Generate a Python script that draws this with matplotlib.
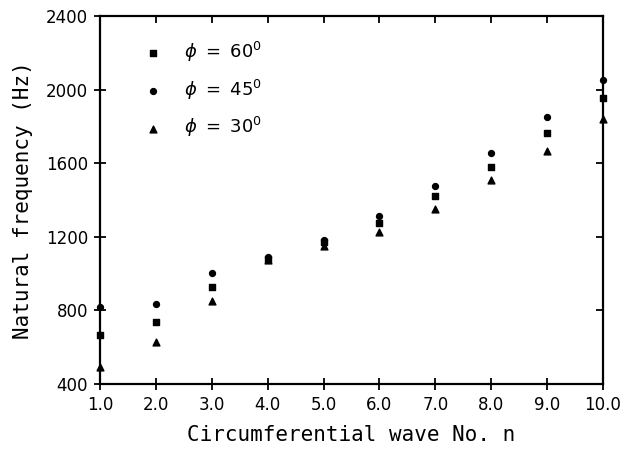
import matplotlib
matplotlib.use('Agg')
import matplotlib.pyplot as plt
import numpy as np

# circumferential wave number
n = [1.0, 2.0, 3.0, 4.0, 5.0, 6.0, 7.0, 8.0, 9.0, 10.0]

# natural frequency (Hz)
f_60 = [666, 735, 925, 1082, 1170, 1273, 1422, 1581, 1762, 1956]
f_45 = [820, 833, 1002, 1090, 1185, 1313, 1478, 1657, 1849, 2052]
f_30 = [494, 627, 849, 1075, 1150, 1228, 1351, 1509, 1668, 1840]

labels = [r'$\phi\ =\ 60^0$', r'$\phi\ =\ 45^0$', r'$\phi\ =\ 30^0$']
xticks = [1.0, 2.0, 3.0, 4.0, 5.0, 6.0, 7.0, 8.0, 9.0, 10.0]
yticks = [400, 800, 1200, 1600, 2000, 2400]

fig = plt.figure(figsize=(6.2, 4.54), dpi=100)
ax = fig.add_axes([0.1613, 0.1542, 0.8113, 0.8106])

h1 = ax.scatter(n, f_60, marker='s', s=16, c='k', clip_on=False, zorder=3)
h2 = ax.scatter(n, f_45, marker='o', s=18, c='k', clip_on=False, zorder=3)
h3 = ax.scatter(n, f_30, marker='^', s=24, c='k', clip_on=False, zorder=3)

ax.set_xlim(1.0, 10.0)
ax.set_ylim(400, 2400)
ax.set_xticks(xticks)
ax.set_xticklabels(['%.1f' % v for v in xticks])
ax.set_yticks(yticks)

for sp in ax.spines.values():
    sp.set_linewidth(1.6)

ax.tick_params(axis='both', which='major', direction='inout', length=9,
               width=1.3, labelsize=12, pad=4)
ax.tick_params(top=True, right=True)
# top/right ticks point inwards only
for t in ax.xaxis.get_major_ticks():
    t.tick2line.set_marker(3)  # TICKDOWN
    t.tick2line.set_markersize(5)
for t in ax.yaxis.get_major_ticks():
    t.tick2line.set_marker(0)  # TICKLEFT
    t.tick2line.set_markersize(5)

ax.set_xlabel('Circumferential wave No. n', family='DejaVu Sans Mono',
              fontsize=15, labelpad=8)
ax.set_ylabel('Natural frequency (Hz)', family='DejaVu Sans Mono',
              fontsize=15, labelpad=9)

leg = ax.legend([h1, h2, h3], labels, loc='upper left',
                bbox_to_anchor=(0.091, 0.935), frameon=False, fontsize=13,
                borderpad=0, handlelength=0.8, handletextpad=1.3,
                labelspacing=0.75, scatterpoints=1, borderaxespad=0)

fig.savefig('out.png', dpi=100)
